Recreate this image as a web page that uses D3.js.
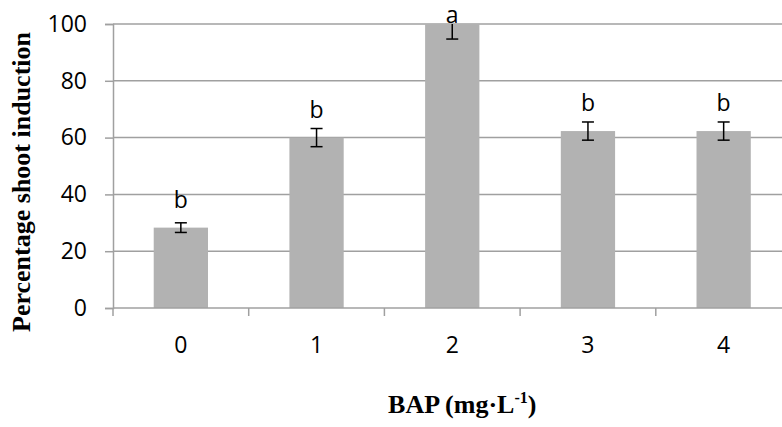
<!DOCTYPE html>
<html>
<head>
<meta charset="utf-8">
<script src="https://cdn.jsdelivr.net/npm/d3@7"></script>
<style>
  html, body { margin: 0; padding: 0; background: #fff; }
  svg { display: block; }
</style>
</head>
<body>
<script>
const categories = ["0", "1", "2", "3", "4"];
const values = [28.3, 60, 100, 62.3, 62.3];
const errors = [1.7, 3.2, 5.3, 3.2, 3.2];
const letters = ["b", "b", "a", "b", "b"];
const yTicks = [0, 20, 40, 60, 80, 100];

const W = 782, H = 427;
const mLeft = 113, mTop = 24, mBottom = 308;
const bandW = 135.7;
const mRight = mLeft + bandW * categories.length;

const svg = d3.select("body").append("svg").attr("width", W).attr("height", H);

const x = d3.scaleBand().domain(categories).range([mLeft, mRight]).paddingInner(0.6).paddingOuter(0.3);
const y = d3.scaleLinear().domain([0, 100]).range([mBottom, mTop]);

const gridColor = "#a0a0a0";
const tickFont = "'Open Sans', 'Noto Sans', sans-serif";
const fs = 23;

// gridlines
svg.append("g").selectAll("line").data(yTicks.filter(d => d > 0)).join("line")
  .attr("x1", mLeft).attr("x2", W).attr("y1", d => y(d)).attr("y2", d => y(d))
  .attr("stroke", gridColor).attr("stroke-width", 1.5);

// y axis
const yAxis = svg.append("g").attr("transform", `translate(${mLeft},0)`)
  .call(d3.axisLeft(y).tickValues(yTicks).tickSize(8).tickPadding(18).tickFormat(d3.format("d")));
yAxis.select(".domain").attr("stroke", gridColor).attr("stroke-width", 1.5);
yAxis.selectAll(".tick line").attr("stroke", gridColor).attr("stroke-width", 1.5);
yAxis.selectAll(".tick text").attr("font-family", tickFont).attr("font-size", fs).attr("fill", "#000");

// bars
svg.append("g").selectAll("rect").data(categories).join("rect")
  .attr("x", d => x(d)).attr("width", x.bandwidth())
  .attr("y", (d, i) => y(values[i])).attr("height", (d, i) => y(0) - y(values[i]))
  .attr("fill", "#b2b2b2");

// x axis
const xTickScale = d3.scaleLinear().domain([0, categories.length]).range([mLeft, mRight]);
const xAxisG = svg.append("g").attr("transform", `translate(0,${mBottom})`);
xAxisG.append("line").attr("x1", mLeft).attr("x2", W).attr("y1", 0).attr("y2", 0)
  .attr("stroke", gridColor).attr("stroke-width", 1.5);
xAxisG.selectAll("line.tk").data(d3.range(categories.length + 1)).join("line").attr("class", "tk")
  .attr("x1", d => xTickScale(d)).attr("x2", d => xTickScale(d)).attr("y1", 0).attr("y2", 8)
  .attr("stroke", gridColor).attr("stroke-width", 1.5);
xAxisG.selectAll("text").data(categories).join("text")
  .attr("x", d => x(d) + x.bandwidth() / 2).attr("y", 45)
  .attr("text-anchor", "middle").attr("font-family", tickFont).attr("font-size", fs).attr("fill", "#000")
  .text(d => d);

// error bars, clipped to plot area
svg.append("clipPath").attr("id", "plotclip").append("rect")
  .attr("x", mLeft).attr("y", mTop).attr("width", W - mLeft).attr("height", mBottom - mTop);
const eb = svg.append("g").attr("clip-path", "url(#plotclip)");
const cap = 6;
categories.forEach((c, i) => {
  const cx = x(c) + x.bandwidth() / 2;
  const y1 = y(values[i] + errors[i]), y2 = y(values[i] - errors[i]);
  eb.append("line").attr("x1", cx).attr("x2", cx).attr("y1", y1).attr("y2", y2).attr("stroke", "#000").attr("stroke-width", 1.5);
  eb.append("line").attr("x1", cx - cap).attr("x2", cx + cap).attr("y1", y1).attr("y2", y1).attr("stroke", "#000").attr("stroke-width", 1.5);
  eb.append("line").attr("x1", cx - cap).attr("x2", cx + cap).attr("y1", y2).attr("y2", y2).attr("stroke", "#000").attr("stroke-width", 1.5);
});

// significance letters
svg.append("g").selectAll("text").data(categories).join("text")
  .attr("x", d => x(d) + x.bandwidth() / 2)
  .attr("y", (d, i) => Math.max(y(values[i]) - 20, mTop - 1))
  .attr("text-anchor", "middle").attr("font-family", tickFont).attr("font-size", fs).attr("fill", "#000")
  .text((d, i) => letters[i]);

// axis titles
svg.append("text")
  .attr("transform", `translate(30,${(mTop + mBottom) / 2 + 16}) rotate(-90)`)
  .attr("text-anchor", "middle").attr("font-family", "'Liberation Serif', 'Times New Roman', serif")
  .attr("font-weight", "bold").attr("font-size", 26).attr("fill", "#000")
  .text("Percentage shoot induction");

const xt = svg.append("text")
  .attr("x", x("2") + x.bandwidth() / 2 + 10).attr("y", 413)
  .attr("text-anchor", "middle").attr("font-family", "'Liberation Serif', 'Times New Roman', serif")
  .attr("font-weight", "bold").attr("font-size", 26).attr("fill", "#000");
xt.append("tspan").text("BAP (mg·L");
xt.append("tspan").attr("font-size", 16).attr("dy", -10).text("-1");
xt.append("tspan").attr("dy", 10).text(")");
</script>
</body>
</html>
